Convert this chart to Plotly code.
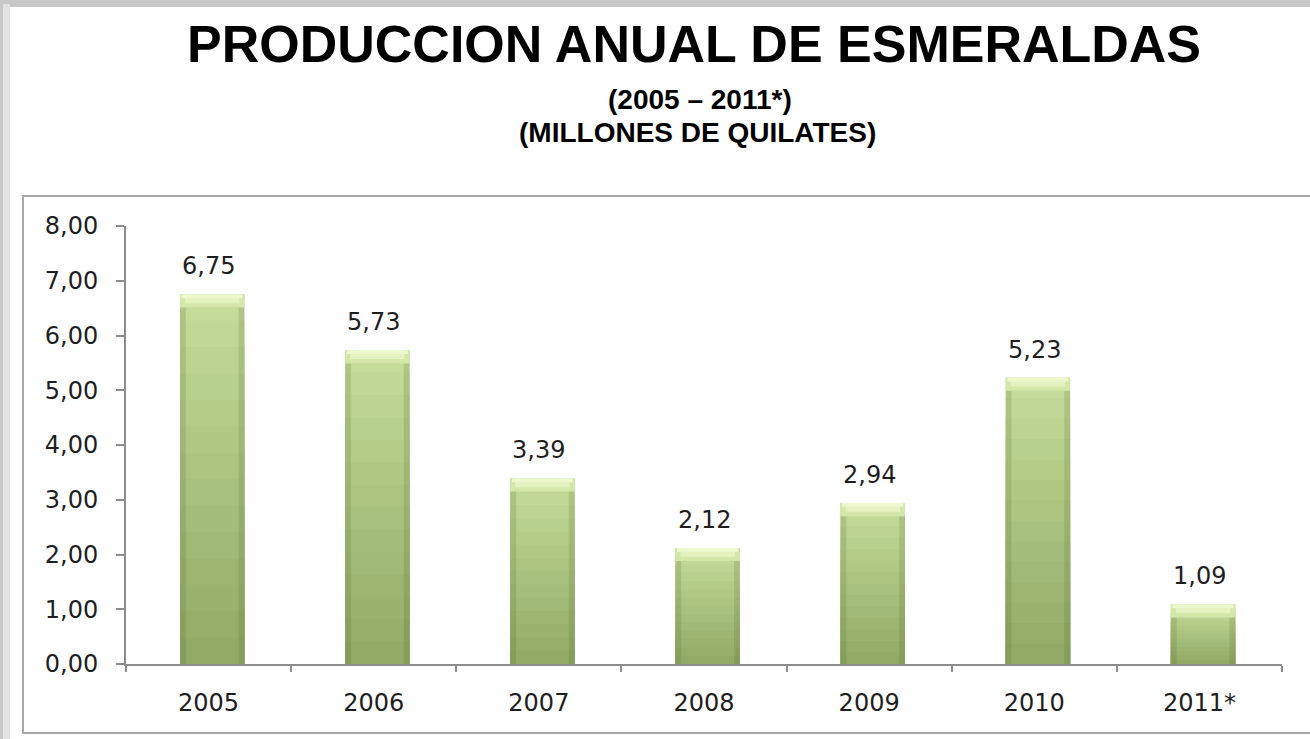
import plotly.graph_objects as go

categories = ["2005", "2006", "2007", "2008", "2009", "2010", "2011*"]
values = [6.75, 5.73, 3.39, 2.12, 2.94, 5.23, 1.09]
value_labels = ["6,75", "5,73", "3,39", "2,12", "2,94", "5,23", "1,09"]
y_ticks = [0, 1, 2, 3, 4, 5, 6, 7, 8]

W, H = 1310, 739
L, R, T, B = 126, 28, 226, 75
pw, ph = W - L - R, H - T - B

def px(x):
    return (x - L) / pw

def py(y):
    return (H - B - y) / ph

BAR_W = 0.39
SHIFT = 0.022
TOP_RGB = (196, 219, 153)
BOT_RGB = (146, 170, 102)
N_SEG = 14

def mix(a, b, t):
    return "rgb(%d,%d,%d)" % tuple(round(a[i] + (b[i] - a[i]) * t) for i in range(3))

fig = go.Figure()

def add_bar(y, base, width, color, center_shift=0.0):
    fig.add_trace(go.Bar(x=categories, y=y, base=base, width=width,
                         offset=-width / 2 + SHIFT + center_shift,
                         marker=dict(color=color, line=dict(width=0)),
                         hoverinfo="skip", showlegend=False))

zeros = [0] * len(values)

# vertical gradient, lighter at the top of every bar: nested bars from the axis,
# tallest (lightest) first, shorter (darker) ones drawn over them
for k in range(N_SEG, 0, -1):
    add_bar([v * k / N_SEG for v in values], zeros, BAR_W, mix(BOT_RGB, TOP_RGB, (k - 1) / (N_SEG - 1)))

# darker side edges
edge_w = 0.035
add_bar(values, zeros, edge_w, "rgba(80,100,40,0.18)", -BAR_W / 2 + edge_w / 2)
add_bar(values, zeros, edge_w, "rgba(80,100,40,0.18)", BAR_W / 2 - edge_w / 2)

# bevelled top cap
cap1 = [0.24] * len(values)
add_bar(cap1, [v - c for v, c in zip(values, cap1)], BAR_W, "#d3e7a9")
cap2 = [0.16] * len(values)
add_bar(cap2, [v - c for v, c in zip(values, cap2)], BAR_W - 0.06, "#e4f2bf")
cap3 = [0.07] * len(values)
add_bar(cap3, [v - c for v, c in zip(values, cap3)], BAR_W - 0.02, "#eef8cf")

label_font = dict(family="DejaVu Sans, sans-serif", size=24, color="#1e1e1e")
for i, (v, t) in enumerate(zip(values, value_labels)):
    fig.add_annotation(x=i, y=v, text=t, showarrow=False, yshift=28, font=label_font)

shapes = [
    # outer slide shadow
    dict(type="rect", xref="paper", yref="paper", x0=px(0), x1=px(W), y0=py(0), y1=py(7),
         fillcolor="#c8c8c8", line=dict(width=0), layer="below"),
    dict(type="rect", xref="paper", yref="paper", x0=px(0), x1=px(10), y0=py(H), y1=py(0),
         fillcolor="#c8c8c8", line=dict(width=0), layer="below"),
    dict(type="rect", xref="paper", yref="paper", x0=px(3), x1=px(10), y0=py(H), y1=py(4),
         fillcolor="#e2e2e2", line=dict(width=0), layer="below"),
    # chart frame
    dict(type="rect", xref="paper", yref="paper", x0=px(23), x1=px(W + 20), y0=py(733), y1=py(196),
         fillcolor="rgba(0,0,0,0)", line=dict(color="#a8a8a8", width=2), layer="below"),
]

title_font = "Liberation Sans, Arial, sans-serif"
fig.add_annotation(xref="paper", yref="paper", x=px(694), y=py(44), text="<b>PRODUCCION ANUAL DE ESMERALDAS</b>",
                   showarrow=False, xanchor="center", yanchor="middle",
                   font=dict(family=title_font, size=52, color="#000000"))
fig.add_annotation(xref="paper", yref="paper", x=px(700), y=py(99), text="<b>(2005 – 2011*)</b>",
                   showarrow=False, xanchor="center", yanchor="middle",
                   font=dict(family=title_font, size=28, color="#000000"))
fig.add_annotation(xref="paper", yref="paper", x=px(697), y=py(132), text="<b>(MILLONES DE QUILATES)</b>",
                   showarrow=False, xanchor="center", yanchor="middle",
                   font=dict(family=title_font, size=28, color="#000000"))

tick_font = dict(family="DejaVu Sans, sans-serif", size=24, color="#1e1e1e")
fig.update_layout(
    width=W, height=H,
    margin=dict(l=L, r=R, t=T, b=B, autoexpand=False),
    paper_bgcolor="white", plot_bgcolor="white",
    barmode="overlay",
    separators=",.",
    shapes=shapes,
    showlegend=False,
    xaxis=dict(type="category", range=[-0.5, len(categories) - 0.5], showline=True, linecolor="#8c8c8c",
               linewidth=2, ticks="outside", tickson="boundaries", ticklen=6, tickcolor="#8c8c8c",
               tickwidth=1.5, tickfont=tick_font, ticklabelstandoff=16, tickangle=0,
               showgrid=False, zeroline=False, fixedrange=True),
    yaxis=dict(range=[0, 8], tickvals=y_ticks, tickformat=".2f", showline=True, linecolor="#8c8c8c",
               linewidth=2, ticks="outside", ticklen=8, tickcolor="#8c8c8c", tickwidth=1.5,
               tickfont=tick_font, ticklabelstandoff=13, showgrid=False, zeroline=False,
               fixedrange=True),
)

fig.write_html("out.html", config={"displayModeBar": False},
               post_script="document.body.style.margin='0';")
